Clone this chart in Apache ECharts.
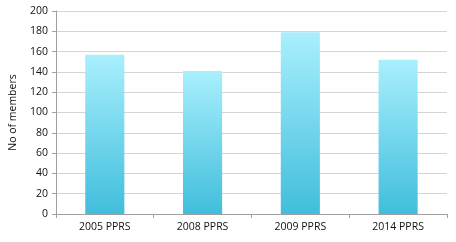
<!DOCTYPE html>
<html><head><meta charset="utf-8">
<script src="https://cdn.jsdelivr.net/npm/echarts@6/dist/echarts.min.js"></script>
<style>html,body{margin:0;padding:0;background:#fff}#c{width:456px;height:242px}</style>
</head><body><div id="c"></div>
<script>
const categories = ['2005 PPRS', '2008 PPRS', '2009 PPRS', '2014 PPRS'];
const members = [157, 141, 179, 152];
const yTicks = [0, 20, 40, 60, 80, 100, 120, 140, 160, 180, 200];

const chart = echarts.init(document.getElementById('c'), null, {renderer: 'canvas'});
const font = 'Open Sans';
chart.setOption({
  animation: false,
  grid: {left: 52, right: 9, top: 11, bottom: 28},
  xAxis: {
    type: 'category', data: categories,
    axisLine: {lineStyle: {color: '#a0a0a0'}},
    axisTick: {show: true, alignWithLabel: false, length: 4, lineStyle: {color: '#a0a0a0'}},
    axisLabel: {color: '#111', fontFamily: font, fontSize: 10.5, margin: 8}
  },
  yAxis: {
    type: 'value', min: yTicks[0], max: yTicks[yTicks.length - 1], interval: 20,
    name: 'No of members', nameLocation: 'middle', nameGap: 33, nameRotate: 90,
    nameTextStyle: {color: '#111', fontFamily: font, fontSize: 10.5},
    axisLine: {show: true, lineStyle: {color: '#a0a0a0'}},
    axisTick: {show: true, length: 4, lineStyle: {color: '#a0a0a0'}},
    axisLabel: {color: '#111', fontFamily: font, fontSize: 10.5, margin: 8},
    splitLine: {lineStyle: {color: '#d4d4d4'}}
  },
  series: [{
    type: 'bar', data: members, barWidth: '40%',
    itemStyle: {color: new echarts.graphic.LinearGradient(0, 0, 0, 1, [
      {offset: 0, color: '#a9effd'}, {offset: 1, color: '#40bedc'}])}
  }]
});
</script></body></html>
